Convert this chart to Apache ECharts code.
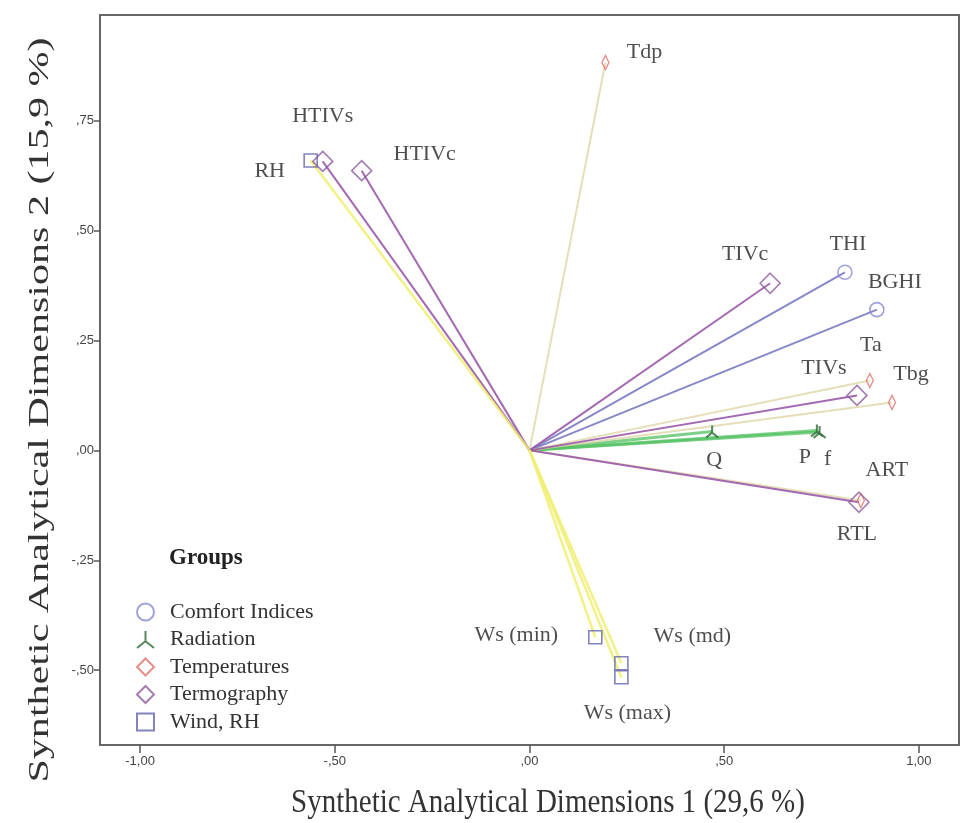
<!DOCTYPE html>
<html><head><meta charset="utf-8">
<script src="https://cdn.jsdelivr.net/npm/echarts@6/dist/echarts.min.js"></script>
<style>html,body{margin:0;padding:0;background:#fff}#c{width:965px;height:823px}</style>
</head><body><div id="c"></div>
<script>
// ---- data ----
const varNames = ['THI','BGHI','Q','P','f','Tdp','Ta','Tbg','ART','TIVc','TIVs','HTIVs','HTIVc','RTL','RH','Ws (min)','Ws (md)','Ws (max)'];
const dim1     = [0.810, 0.892, 0.469, 0.738, 0.745, 0.195, 0.874, 0.931, 0.851, 0.618, 0.841, -0.531, -0.431, 0.846, -0.562, 0.169, 0.236, 0.236];
const dim2     = [0.405, 0.320, 0.043, 0.045, 0.042, 0.882, 0.159, 0.109, -0.114, 0.380, 0.125, 0.657, 0.636, -0.118, 0.659, -0.425, -0.484, -0.516];
const groupOf  = ['Comfort Indices','Comfort Indices','Radiation','Radiation','Radiation','Temperatures','Temperatures','Temperatures','Temperatures','Termography','Termography','Termography','Termography','Termography','Wind, RH','Wind, RH','Wind, RH','Wind, RH'];
const groups   = ['Comfort Indices','Radiation','Temperatures','Termography','Wind, RH'];
const xTicks   = [-1, -0.5, 0, 0.5, 1];
const yTicks   = [-0.5, -0.25, 0, 0.25, 0.5, 0.75];
const xTitle   = 'Synthetic Analytical Dimensions 1 (29,6 %)';
const yTitle   = 'Synthetic Analytical Dimensions 2 (15,9 %)';

// ---- styles ----
const serif = '"Liberation Serif", "DejaVu Serif", serif';
const groupStyle = {
  'Comfort Indices': {symbol:'circle', size:14, marker:{color:'rgba(255,255,255,0)', borderColor:'#8a8ad6', borderWidth:1.6}, line:{color:'#7a7ac2', width:2, opacity:0.9}},
  'Radiation': {symbol:'path://M5,0 L5,6 L0,10 M5,6 L10,10', size:12, marker:{color:'rgba(255,255,255,0)', borderColor:'#2d6a36', borderWidth:2}, line:{color:'#52c060', width:3, opacity:0.75}},
  'Temperatures': {symbol:'diamond', size:[7,14], marker:{color:'rgba(255,255,255,0)', borderColor:'#e2706a', borderWidth:1.5}, line:{color:'#ddd6a8', width:2, opacity:0.8}},
  'Termography': {symbol:'diamond', size:20, marker:{color:'rgba(255,255,255,0)', borderColor:'#8c5c9c', borderWidth:1.6}, line:{color:'#9a5aa8', width:2, opacity:0.9}},
  'Wind, RH': {symbol:'rect', size:13, marker:{color:'rgba(255,255,255,0)', borderColor:'#6464ae', borderWidth:1.6}, line:{color:'#eeee70', width:2.5, opacity:0.85}}
};
const labelOffset = {
  'THI':[3,-28],'BGHI':[18,-27],'Q':[2,29],'P':[-12,27],'f':[8,27],'Tdp':[39,-10],'Ta':[1,-35],'Tbg':[19,-28],
  'ART':[26,-30],'TIVc':[-25,-29],'TIVs':[-33,-27],'HTIVs':[0,-45],'HTIVc':[63,-16],'RTL':[-2,32],'RH':[-41,11],
  'Ws (min)':[-79,-2],'Ws (md)':[71,-27],'Ws (max)':[6,36]
};
const fmt = v => {
  const s = Math.abs(v).toFixed(2).replace('.', ',').replace(/^0/, '');
  return (v < 0 ? '-' : '') + s;
};

const series = [];
varNames.forEach((n, i) => {
  const st = groupStyle[groupOf[i]].line;
  series.push({
    type:'line', name:'vec_'+n, data:[[0,0],[dim1[i],dim2[i]]], symbol:'none', silent:true, z:1,
    lineStyle:{color:st.color, width:st.width, opacity:st.opacity}, legendHoverLink:false
  });
});
groups.forEach(g => {
  const st = groupStyle[g];
  const data = [];
  varNames.forEach((n, i) => {
    if (groupOf[i] !== g) return;
    data.push({name:n, value:[dim1[i], dim2[i]],
      label:{show:true, position:'inside', offset:labelOffset[n], formatter:'{b}', align:'center', verticalAlign:'middle',
        fontFamily:serif, fontSize:22, color:'#222'}});
  });
  series.push({type:'scatter', name:g, symbol:st.symbol, symbolSize:st.size, symbolKeepAspect:true, itemStyle:st.marker, data, z:3});
});

const chart = echarts.init(document.getElementById('c'), null, {renderer:'canvas'});
chart.setOption({
  animation:false,
  backgroundColor:'#fff',
  grid:{left:100, right:6, top:15, bottom:78, show:true, borderColor:'#666', borderWidth:2, backgroundColor:'#fff'},
  title:{text:'Groups', left:164, top:542, textStyle:{fontFamily:serif, fontSize:23, fontWeight:'bold', color:'#222'}},
  legend:{orient:'vertical', left:131, top:596, itemGap:5.5, itemWidth:17, itemHeight:17,
    data:groups, textStyle:{fontFamily:serif, fontSize:22, lineHeight:22, color:'#333', padding:[0,0,0,11]}, selectedMode:false},
  graphic:[
    {type:'text', x:548, y:803, scaleY:1.15, silent:true,
      style:{text:xTitle, font:'29px ' + serif, fill:'#333', align:'center', verticalAlign:'middle'}},
    {type:'text', x:40, y:410, rotation:Math.PI/2, scaleX:1.45, silent:true,
      style:{text:yTitle, font:'29px ' + serif, fill:'#333', align:'center', verticalAlign:'middle'}}
  ],
  xAxis:{type:'value', min:-1.103, max:1.103, position:'bottom',
    axisLine:{show:true, onZero:false, lineStyle:{color:'#666', width:2}},
    axisTick:{show:true, length:8, customValues:xTicks, lineStyle:{color:'#555', width:1.5}},
    axisLabel:{customValues:xTicks, formatter:fmt, fontFamily:'"Liberation Sans", Arial, sans-serif', fontSize:13, color:'#444', margin:10},
    splitLine:{show:false}},
  yAxis:{type:'value', min:-0.67, max:0.99, position:'left',
    axisLine:{show:true, onZero:false, lineStyle:{color:'#666', width:2}},
    axisTick:{show:true, length:6, customValues:yTicks, lineStyle:{color:'#555', width:1.5}},
    axisLabel:{customValues:yTicks, formatter:fmt, fontFamily:'"Liberation Sans", Arial, sans-serif', fontSize:13, color:'#444', margin:6},
    splitLine:{show:false}},
  series
});
</script></body></html>
